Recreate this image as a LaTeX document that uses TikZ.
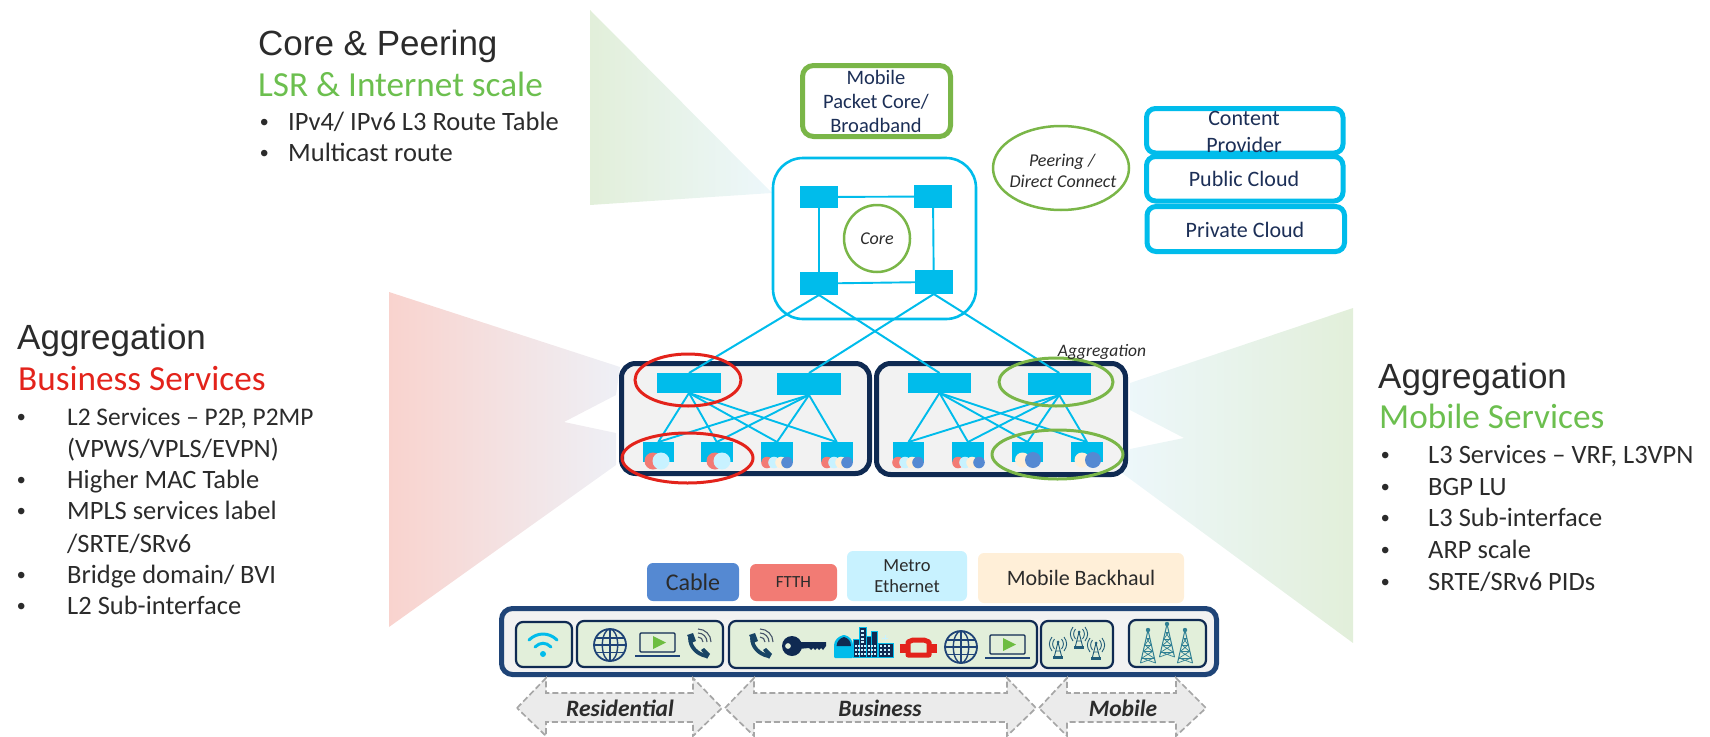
\documentclass[tikz,border=0pt]{standalone}
\usepackage{fontspec}
\setmainfont{Carlito}
\newfontfamily\hdfont{Liberation Sans}
\usetikzlibrary{shapes.geometric}
\definecolor{cy}{HTML}{00BCEB}
\definecolor{grn}{HTML}{7AB648}
\definecolor{grt}{HTML}{6CBF4F}
\definecolor{rd}{HTML}{E3231B}
\definecolor{nv}{HTML}{0F2A52}
\definecolor{nb}{HTML}{1F4477}
\definecolor{txt}{HTML}{2B2B2B}
\definecolor{btx}{HTML}{1C2F57}
\definecolor{cR}{HTML}{F27B74}
\definecolor{cL}{HTML}{C8F2FF}
\definecolor{cC}{HTML}{FFEFD8}
\definecolor{cB}{HTML}{5589D2}
\definecolor{pg}{HTML}{F2F2F2}
\definecolor{lg}{HTML}{E2EFDA}
\definecolor{tw}{HTML}{2F7F93}
\definecolor{fanR}{HTML}{F9D3CE}
\definecolor{fanRm}{HTML}{F7DADA}
\definecolor{fanRe}{HTML}{EEF0F6}
\definecolor{fanG}{HTML}{E5F1E2}
\definecolor{fanB}{HTML}{EDF7FB}
\newcommand\fs[1]{\fontsize{#1}{#1}\selectfont}
\tikzset{
  pxb/.style={inner sep=0pt,outer sep=0pt,rectangle},
  sw/.style={pxb,fill=cy},
  link/.style={cy,line width=1.9pt},
  mainlink/.style={cy,line width=2pt},
  cloudbox/.style={pxb,draw=cy,line width=5pt,fill=white,rounded corners=9pt},
  aggbox/.style={pxb,draw=nv,line width=5pt,fill=pg,rounded corners=14pt},
  inbox/.style={pxb,draw=nv,line width=2.2pt,fill=lg,rounded corners=7pt},
  tag/.style={pxb,rounded corners=6pt},
  hd/.style={anchor=base west,inner sep=0pt,text=txt,font=\hdfont\fs{35}},
  sub/.style={anchor=base west,inner sep=0pt,font=\fs{35.2}},
  li/.style={anchor=base west,inner sep=0pt,text=txt,font=\fs{26.5}},
  bul/.style={anchor=base west,inner sep=0pt,text=txt,font=\hdfont\fs{24}},
  lbl/.style={anchor=base,inner sep=0pt,text=btx,font=\fs{20.5}},
  lblb/.style={anchor=base,inner sep=0pt,text=btx,font=\fs{22}},
  ringr/.style={ellipse,draw=rd,line width=3pt,inner sep=0pt},
  ringg/.style={ellipse,draw=grn,line width=3pt,inner sep=0pt},
  dasharrow/.style={fill=black!8,draw=black!35,line width=1.7pt,dash pattern=on 6pt off 3pt},
  arrowlbl/.style={inner sep=0pt,text=txt,font=\bfseries\itshape\fs{23.5}},
}
% name, style, x1,y1,x2,y2, text
\newcommand\pxbox[7]{\node[#2,minimum width={(#5-#3)*1pt},minimum height={(#6-#4)*1pt}] (#1) at ({(#3+#5)/2},{(#4+#6)/2}) {#7};}
\newcommand\globeicon[3]{\begin{scope}[shift={(#1,#2)},nb,line width=1.4pt]
 \draw[line width=1.8pt] (0,0) circle (#3);
 \draw (0,0) ellipse ({#3*0.48} and #3);
 \draw (0,-#3) -- (0,#3);
 \draw (-#3,0) -- (#3,0);
 \draw ({-#3*0.88},{-#3*0.45}) -- ({#3*0.88},{-#3*0.45});
 \draw ({-#3*0.88},{#3*0.45}) -- ({#3*0.88},{#3*0.45});
\end{scope}}
\newcommand\laptopicon[2]{\begin{scope}[shift={(#1,#2)}]
 \draw[nv,line width=1.3pt,fill=lg,rounded corners=1pt] (0,0) rectangle (35,19);
 \fill[grn!90!green] (13,3) -- (26,9.5) -- (13,16) -- cycle;
 \draw[nb,line width=2.6pt] (-5,23) -- (40,23);
\end{scope}}
\newcommand\phoneicon[2]{\begin{scope}[shift={(#1,#2)}]
 \draw[nv!70!tw,line width=3.8pt,line cap=round] (-8,-7) .. controls (-8,2) and (-1,9) .. (8,11);
 \fill[nv!70!tw] (-11,-10) -- (-5,-12) -- (-2,-4) -- (-7,-2) -- cycle;
 \fill[nv!70!tw] (3,5) -- (6,3) -- (12,9) -- (9,14) -- cycle;
 \foreach \r in {5,9,13}{
  \draw[nv!50!gray,line width=1.1pt] (0,{-3-\r}) .. controls ({\r*0.55},{-3-\r}) and (\r,{-3-\r*0.55}) .. (\r,-3);}
\end{scope}}
\newcommand\mastant[2]{\begin{scope}[shift={(#1,#2)},tw!60!nv,line width=.9pt]
 \draw (0,-6) -- (-3.5,8) (0,-6) -- (3.5,8) (-2.5,3) -- (2.5,3);
 \fill (-5,8) rectangle (5,11);
 \fill (0,-6) circle (1.5);
 \draw (-3.5,-9) .. controls (-6,-6) and (-6,-2) .. (-3.5,1);
 \draw (-6,-11) .. controls (-9.5,-6) and (-9.5,-2) .. (-6,3);
 \draw (3.5,-9) .. controls (6,-6) and (6,-2) .. (3.5,1);
 \draw (6,-11) .. controls (9.5,-6) and (9.5,-2) .. (6,3);
\end{scope}}
\newcommand\lattice[3]{\begin{scope}[shift={(#1,#2)},tw,line width=1pt]
 \def\h{#3}
 \draw (0,0) -- (-7.5,\h) (0,0) -- (7.5,\h);
 \fill (0,0) circle (2.2);
 \draw[line width=.7pt] (-1.5,{\h*.25}) -- (1.5,{\h*.25}) (-3,{\h*.45}) -- (3,{\h*.45}) (-4.5,{\h*.65}) -- (4.5,{\h*.65}) (-6,{\h*.85}) -- (6,{\h*.85});
 \draw[line width=.7pt] (-1.5,{\h*.25}) -- (3,{\h*.45}) (1.5,{\h*.25}) -- (-3,{\h*.45}) (-3,{\h*.45}) -- (4.5,{\h*.65}) (3,{\h*.45}) -- (-4.5,{\h*.65}) (-4.5,{\h*.65}) -- (6,{\h*.85}) (4.5,{\h*.65}) -- (-6,{\h*.85}) (-6,{\h*.85}) -- (7.5,\h) (6,{\h*.85}) -- (-7.5,\h);
\end{scope}}
\begin{document}
\begin{tikzpicture}[x=1pt,y=-1pt]
\useasboundingbox (0,0) rectangle (1710,736);
% fans
\shade[left color=lg,middle color=fanG,right color=fanB] (590,10) -- (772,193) -- (590,205) -- cycle;
\shade[left color=fanR,middle color=fanRm,right color=fanRe] (389,292) -- (620,367) -- (616,395) -- (564,422) -- (616,433) -- (616,465) -- (389,627) -- cycle;
\shade[left color=fanB,middle color=fanG,right color=lg] (1353,308) -- (1130,383) -- (1130,410) -- (1184,438) -- (1130,449) -- (1122,473) -- (1353,643) -- cycle;
% headings
\node[hd] (h1) at (258,55) {Core \& Peering};
\node[sub,text=grt] (s1) at (258,96) {LSR \& Internet scale};
\node[bul] (b1a) at (260,130) {•};\node[li] (t1a) at (288,130) {IPv4/ IPv6 L3 Route Table};
\node[bul] (b1b) at (260,161) {•};\node[li] (t1b) at (288,161) {Multicast route};
\node[hd] (h2) at (17,349) {Aggregation};
\node[sub,text=rd] (s2) at (18,390) {Business Services};
\node[bul] (b2a) at (17,425) {•};\node[li,font=\fs{25.4}] (t2a) at (67,425) {L2 Services – P2P, P2MP};
\node[li] (t2b) at (67,457) {(VPWS/VPLS/EVPN)};
\node[bul] (b2c) at (17,488) {•};\node[li] (t2c) at (67,488) {Higher MAC Table};
\node[bul] (b2d) at (17,519) {•};\node[li] (t2d) at (67,519) {MPLS services label};
\node[li] (t2e) at (67,552) {/SRTE/SRv6};
\node[bul] (b2f) at (17,583) {•};\node[li] (t2f) at (67,583) {Bridge domain/ BVI};
\node[bul] (b2g) at (17,614) {•};\node[li] (t2g) at (67,614) {L2 Sub-interface};
\node[hd] (h3) at (1378,388) {Aggregation};
\node[sub,text=grt] (s3) at (1379,428) {Mobile Services};
\node[bul] (b3a) at (1381,463) {•};\node[li] (t3a) at (1428,463) {L3 Services – VRF, L3VPN};
\node[bul] (b3b) at (1381,495) {•};\node[li] (t3b) at (1428,495) {BGP LU};
\node[bul] (b3c) at (1381,526) {•};\node[li] (t3c) at (1428,526) {L3 Sub-interface};
\node[bul] (b3d) at (1381,558) {•};\node[li] (t3d) at (1428,558) {ARP scale};
\node[bul] (b3e) at (1381,590) {•};\node[li] (t3e) at (1428,590) {SRTE/SRv6 PIDs};
% mobile packet core
\pxbox{mpc}{cloudbox,draw=grn,rounded corners=11pt}{802.5}{65.5}{950.5}{136.5}{}
\node[lbl] (mpc1) at (876,84) {Mobile};
\node[lbl] (mpc2) at (876,108) {Packet Core/};
\node[lbl] (mpc3) at (876,132) {Broadband};
% core
\pxbox{corebox}{pxb,draw=cy,line width=2.6pt,rounded corners=30pt}{773}{158}{976}{319}{}
\pxbox{c1}{sw}{800}{186}{838}{208}{}
\pxbox{c2}{sw}{914}{185}{952}{208}{}
\pxbox{c3}{sw}{800}{272}{838}{295}{}
\pxbox{c4}{sw}{915}{270}{952.5}{294}{}
\draw[link] (c1) -- (c2);
\draw[link] (c3) -- (c4);
\draw[link] (c1) -- (c3);
\draw[link] (c2) -- (c4);
\node[ringg,line width=2.5pt,minimum width=66pt,minimum height=67pt,font=\itshape\fs{18},text=txt] (coreel) at (877,238.5) {Core};
\node[ringg,line width=2.5pt,minimum width=136pt,minimum height=84pt,align=center,font=\itshape\fs{18},text=txt] (peer) at (1061,168) {};
\node[anchor=base,inner sep=0pt,font=\itshape\fs{18},text=txt] (peer1) at (1062,166) {Peering /};
\node[anchor=base,inner sep=0pt,font=\itshape\fs{18},text=txt] (peer2) at (1063,187) {Direct Connect};
% clouds
\pxbox{content}{cloudbox}{1146.5}{108.5}{1343}{153}{}
\pxbox{public}{cloudbox}{1146.5}{156.5}{1343}{201}{}
\pxbox{private}{cloudbox}{1147}{206.5}{1344.5}{251.5}{}
\node[lblb] (ct1) at (1244,125) {Content};
\node[lblb] (ct2) at (1244,152) {Provider};
\node[lblb] (pb) at (1244,186) {Public Cloud};
\node[lblb] (pv) at (1245,237) {Private Cloud};
% aggregation
\pxbox{aggL}{aggbox}{621.5}{363.5}{869.5}{473.5}{}
\pxbox{aggR}{aggbox}{876.5}{363.5}{1125.5}{474.5}{}
\pxbox{a}{sw}{657}{373}{721}{393}{}
\pxbox{b}{sw}{777}{373}{841}{395}{}
\pxbox{d}{sw}{908}{373}{971}{393}{}
\pxbox{e}{sw}{1027.5}{373}{1091}{395}{}
\pxbox{l1}{sw}{642.5}{442}{674}{462}{}
\pxbox{l2}{sw}{701}{442}{732.5}{462}{}
\pxbox{l3}{sw}{761}{442}{793}{462}{}
\pxbox{l4}{sw}{821}{442}{852.5}{462}{}
\pxbox{r1}{sw}{893}{442}{924}{462}{}
\pxbox{r2}{sw}{952}{442}{984}{462}{}
\pxbox{r3}{sw}{1012}{442}{1043}{462}{}
\pxbox{r4}{sw}{1071}{442}{1103}{462}{}
\foreach \s in {a,b}\foreach \t in {l1,l2,l3,l4}{\draw[link] (\s.south) -- (\t.north);}
\foreach \s in {d,e}\foreach \t in {r1,r2,r3,r4}{\draw[link] (\s.south) -- (\t.north);}
\draw[mainlink] (c3.south) -- (a.north);
\draw[mainlink] (c3.south) -- (d.north);
\draw[mainlink] (c4.south) -- (b.north);
\draw[mainlink] (c4.south) -- (e.north);
% port circles
\fill[cR] (653,461) circle (8.5); \fill[cL] (661,461) circle (8.5);
\fill[cR] (715,461) circle (8.5); \fill[cL] (722,461) circle (8.5);
\foreach \x/\c in {767/cR,774/cL,781/cC,787/cB,827/cR,834/cL,841/cC,847/cB,898/cR,905/cL,912/cC,918/cB,958/cR,965/cL,972/cC,979/cB}{\fill[\c] (\x,462.5) circle (5.8);}
\fill[cC] (1022.5,460) circle (7.5); \fill[cB] (1033,460) circle (8);
\fill[cC] (1082,460) circle (7.5); \fill[cB] (1093,460) circle (8);
% rings
\node[ringr,minimum width=106pt,minimum height=52pt] (ra) at (688,380) {};
\node[ringr,minimum width=131pt,minimum height=50pt] (rb) at (687.5,458) {};
\node[ringg,minimum width=114pt,minimum height=48pt] (ga) at (1056,382) {};
\node[ringg,minimum width=131pt,minimum height=49pt] (gb) at (1057.5,454.5) {};
\node[anchor=base,inner sep=0pt,font=\itshape\fs{17.5},text=txt] (agglbl) at (1102,356) {Aggregation};
% service tags
\pxbox{cable}{tag,fill=cB,text=txt,font=\fs{24}}{647}{563}{739}{601}{Cable}
\pxbox{ftth}{tag,fill=cR,text=txt,font=\fs{17}}{750}{564}{837}{601}{FTTH}
\pxbox{metro}{tag,fill=cL}{847}{551}{967}{601}{}
\node[anchor=base,inner sep=0pt,text=txt,font=\fs{18.5}] (m1) at (907,571) {Metro};
\node[anchor=base,inner sep=0pt,text=txt,font=\fs{18.5}] (m2) at (907,592) {Ethernet};
\pxbox{mbh}{tag,fill=cC,text=txt,font=\fs{22}}{978}{553}{1184}{603}{Mobile Backhaul}
% bottom bar
\pxbox{bar}{pxb,draw=nb,line width=5pt,fill=pg,rounded corners=11pt}{501.5}{608.5}{1216.5}{674.5}{}
\pxbox{i1}{inbox}{516}{622}{572}{667}{}
\pxbox{i2}{inbox}{577}{621}{723}{667}{}
\pxbox{i3}{inbox}{729}{621}{1037}{668}{}
\pxbox{i4}{inbox}{1041}{621}{1113}{668}{}
\pxbox{i5}{inbox}{1129}{620}{1206}{667}{}
% wifi
\fill[cy] (543,654) circle (3);
\draw[cy,line width=3pt,line cap=round] (529,640) .. controls (537,632) and (549,632) .. (557,640);
\draw[cy,line width=3pt,line cap=round] (535,647) .. controls (540,642) and (546,642) .. (551,647);
\globeicon{610}{645}{16}
\laptopicon{640}{633}
\phoneicon{698}{645}
\phoneicon{760}{645}
% key
\begin{scope}[nv]
\fill[even odd rule] (792,646) circle (10) (788,646) circle (3);
\fill (798,642) -- (826,642) -- (826,646) -- (823,650) -- (821,648) -- (819,650) -- (817,648) -- (815,650) -- (813,648) -- (811,650) -- (809,648) -- (798,649) -- cycle;
\end{scope}
% dome
\fill[cy,rounded corners=1pt] (834,658) -- (834,646) .. controls (834,640) and (839,636) .. (844,635) .. controls (849,636) and (853,640) .. (853,646) -- (853,658) -- cycle;
\fill[nv] (836.5,646) .. controls (837,641) and (840,638) .. (844,637) .. controls (848,638) and (851,641) .. (851,646) -- cycle;
% city
\begin{scope}
\draw[cy,line width=.6pt,fill=nv] (853,639) rectangle (864,657);
\draw[cy,line width=.6pt,fill=nv] (859,627) rectangle (866,657);
\draw[cy,line width=.6pt,fill=nv] (866,636) rectangle (876,657);
\draw[cy,line width=.6pt,fill=nv] (871,631) rectangle (877,657);
\draw[cy,line width=.6pt,fill=nv] (878,643) rectangle (893,657);
\foreach \x in {855,858,861,864,868,871,874,880,884,888}\foreach \y in {645,649,653}{\fill[cL] (\x,\y) rectangle ++(1.7,2);}
\foreach \y in {630,634,638,641}{\fill[cL] (861,\y) rectangle ++(3,1.7);}
\draw[cL,line width=.9pt] (885,635) -- (885,641) (882,638) -- (888,638);
\end{scope}
% red device
\fill[rd] (900,644) rectangle (937,653);
\draw[rd,line width=5pt,fill=lg,line join=round] (908,642) -- (913,640) -- (924,640) -- (929,642) -- (929,655) -- (908,655) -- cycle;
\globeicon{961}{647}{16}
\laptopicon{990}{635}
% antennas
\mastant{1058}{648}
\mastant{1079}{638}
\mastant{1096}{649}
% lattice towers
\lattice{1148}{630}{33}
\lattice{1167}{624}{33}
\lattice{1185}{630}{33}
% segment arrows
\draw[dasharrow] (517,708) -- (546,678) -- (546,693) -- (693,693) -- (693,678) -- (722,708) -- (693,736) -- (693,722) -- (546,722) -- (546,736) -- cycle;
\draw[dasharrow] (725,708) -- (754,678) -- (754,693) -- (1007,693) -- (1007,678) -- (1036,708) -- (1007,736) -- (1007,722) -- (754,722) -- (754,736) -- cycle;
\draw[dasharrow] (1039,708) -- (1067,678) -- (1067,693) -- (1176,693) -- (1176,678) -- (1206,708) -- (1176,736) -- (1176,722) -- (1067,722) -- (1067,736) -- cycle;
\node[arrowlbl] (ar) at (620,708) {Residential};
\node[arrowlbl] (ab) at (880,708) {Business};
\node[arrowlbl] (am) at (1123,708) {Mobile};
\end{tikzpicture}
\end{document}
